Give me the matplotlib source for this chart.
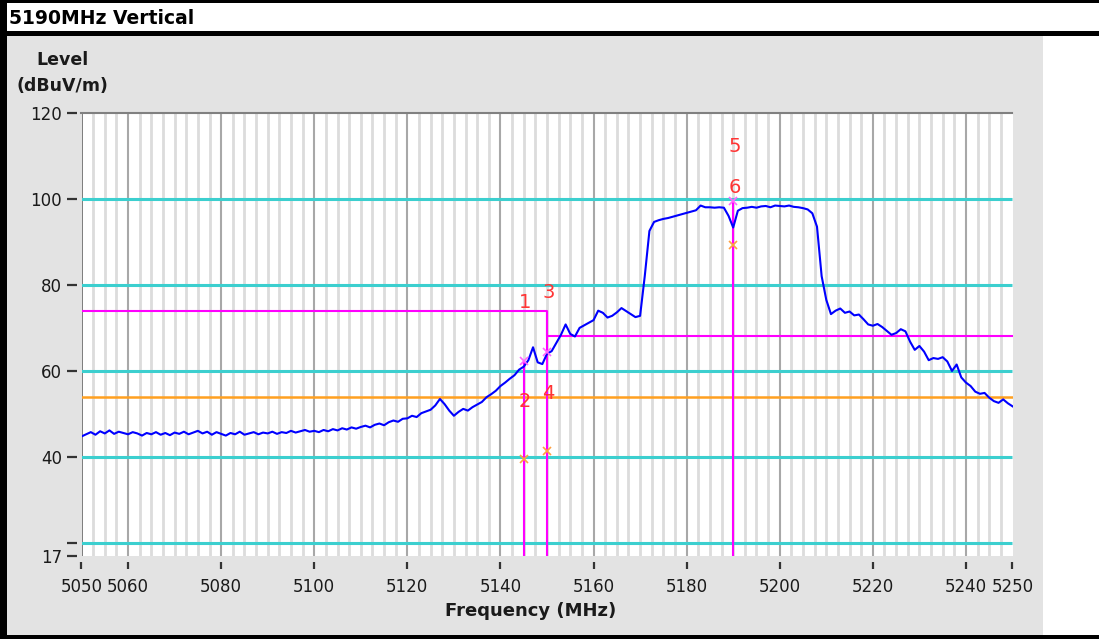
import numpy as np
import matplotlib
matplotlib.use('Agg')
import matplotlib.pyplot as plt
from matplotlib.patches import Rectangle

# ---- data ----
freq_start = 5050
freq_stop = 5250
level = [
    44.8, 45.3, 45.8, 45.2, 46.0, 45.5, 46.2, 45.4, 45.9, 45.6,   # 5050-5059
    45.3, 45.8, 45.5, 45.0, 45.6, 45.3, 45.8, 45.2, 45.6, 45.1,   # 5060-5069
    45.7, 45.4, 45.9, 45.3, 45.7, 46.1, 45.5, 45.9, 45.2, 45.8,   # 5070-5079
    45.4, 45.0, 45.6, 45.3, 45.9, 45.2, 45.5, 45.8, 45.3, 45.7,   # 5080-5089
    45.5, 45.9, 45.4, 45.8, 45.6, 46.1, 45.7, 46.0, 46.3, 45.9,   # 5090-5099
    46.1, 45.8, 46.3, 46.0, 46.5, 46.2, 46.7, 46.4, 46.9, 46.6,   # 5100-5109
    47.0, 47.3, 46.9, 47.5, 47.8, 47.4, 48.1, 48.5, 48.2, 48.9,   # 5110-5119
    49.0, 49.6, 49.3, 50.2, 50.6, 51.0, 52.0, 53.5, 52.3, 50.8,   # 5120-5129
    49.6, 50.5, 51.2, 50.8, 51.6, 52.2, 52.8, 53.9, 54.6, 55.4,   # 5130-5139
    56.5, 57.3, 58.2, 59.0, 60.3, 61.0, 62.5, 65.5, 62.0, 61.6,   # 5140-5149
    64.0, 64.6, 66.5, 68.4, 70.8, 68.6, 68.0, 70.0, 70.6, 71.2,   # 5150-5159
    71.8, 74.0, 73.5, 72.4, 72.8, 73.6, 74.6, 73.9, 73.2, 72.5,   # 5160-5169
    72.8, 82.0, 92.5, 94.6, 95.0, 95.3, 95.5, 95.8, 96.1, 96.4,   # 5170-5179
    96.7, 97.0, 97.3, 98.4, 98.0, 98.0, 97.9, 98.0, 97.9, 96.0,   # 5180-5189
    93.3, 97.2, 97.8, 97.9, 98.1, 97.9, 98.2, 98.3, 98.0, 98.4,   # 5190-5199
    98.3, 98.2, 98.4, 98.1, 98.0, 97.8, 97.5, 96.6, 93.5, 82.0,   # 5200-5209
    76.5, 73.2, 74.0, 74.5, 73.5, 73.8, 72.9, 73.1, 72.0, 70.8,   # 5210-5219
    70.5, 70.9, 70.2, 69.3, 68.4, 68.8, 69.7, 69.2, 66.8, 64.9,   # 5220-5229
    65.8, 64.5, 62.5, 63.0, 62.8, 63.2, 62.2, 60.0, 61.5, 58.5,   # 5230-5239
    57.3, 56.5, 55.2, 54.7, 54.9, 53.8, 53.0, 52.6, 53.4, 52.5,   # 5240-5249
    51.8,                                                         # 5250
]
freq = np.arange(freq_start, freq_stop + 1)

# limit lines
peak_limit_freq = [5050, 5150, 5150, 5250]
peak_limit_level = [74.0, 74.0, 68.2, 68.2]
avg_limit = 54.0

# markers
marker_id = ['1', '2', '3', '4', '5', '6']
marker_freq = [5145, 5145, 5150, 5150, 5190, 5190]
marker_level = [62.3, 39.6, 64.3, 41.5, 99.5, 89.2]
marker_kind = ['pk', 'av', 'pk', 'av', 'pk', 'av']
label_level = [76.0, 52.8, 78.1, 54.7, 112.2, 102.7]

xtick_vals = [5050, 5060, 5080, 5100, 5120, 5140, 5160, 5180, 5200, 5220, 5240, 5250]
ytick_vals = [120, 100, 80, 60, 40, 20, 17]
ytick_text = ['120', '100', '80', '60', '40', '', '17']
hgrid = [20, 40, 60, 80, 100]

W, H = 1099, 639
fig = plt.figure(figsize=(W / 100, H / 100), dpi=100, facecolor='white')


def box(x0, y0, x1, y1, color):
    # pixel coords, origin top-left
    r = Rectangle((x0 / W, 1 - y1 / H), (x1 - x0) / W, (y1 - y0) / H,
                  transform=fig.transFigure, facecolor=color, edgecolor='none', zorder=-10)
    fig.add_artist(r)


box(7, 36, 1043, 636, '#e3e3e3')
box(0, 0, W, 3, 'black')
box(0, 31, W, 36, 'black')
box(0, 0, 7, H, 'black')
box(0, 635, W, H, 'black')

fig.text(9 / W, 1 - 18 / H, '5190MHz Vertical', family='DejaVu Sans', weight='bold',
         fontsize=13.5, va='center', ha='left', color='black')

ax = fig.add_axes([81.5 / W, 1 - 556.2 / H, 931 / W, (556.2 - 112.5) / H])
ax.set_facecolor('white')
ax.set_xlim(freq_start, freq_stop)
ax.set_ylim(17, 120)

# vertical grid
minor_x = [f for f in np.arange(5052.5, 5250, 2.5) if (f - 5060) % 20 != 0]
ax.vlines(minor_x, 17, 120, color='#dcdcdc', lw=2, zorder=1)
ax.vlines(np.arange(5060, 5250, 20), 17, 120, color='#a8a8a8', lw=1.5, zorder=1.1)
ax.axvline(freq_start, color='#707070', lw=2, zorder=1.2)
ax.hlines(hgrid, freq_start, freq_stop, color='#3ccfcf', lw=2.2, zorder=2)

# limits
ax.plot(peak_limit_freq, peak_limit_level, color='#ff00ff', lw=1.5, zorder=3)
ax.axhline(avg_limit, color='#ffa020', lw=1.8, zorder=3)
ax.vlines([5145, 5150, 5190], 17, [62.3, 74.0, 99.5], color='#ff00ff', lw=1.5, zorder=3)

ax.plot(freq, level, color='#0000ff', lw=1.5, zorder=4)

for mid, mf, ml, mk, ll in zip(marker_id, marker_freq, marker_level, marker_kind, label_level):
    c = '#ff66ff' if mk == 'pk' else '#ffa040'
    ax.plot(mf, ml, marker='x', ms=6, mew=1.2, color=c, zorder=5)
    ax.text(mf + 0.3, ll, mid, color='#ff3535', fontsize=14, ha='center', va='center',
            family='DejaVu Sans', zorder=6)

ax.set_xticks(xtick_vals)
ax.set_xticklabels([str(v) for v in xtick_vals])
ax.set_yticks(ytick_vals)
ax.set_yticklabels(ytick_text)
ax.tick_params(axis='both', direction='out', width=1.6, color='#333333',
               labelsize=12, labelcolor='#1a1a1a')
ax.tick_params(axis='x', length=5, pad=7)
ax.tick_params(axis='y', length=7, pad=4)

ax.spines['left'].set_position(('outward', 3))
ax.spines['left'].set_color('none')
ax.spines['bottom'].set_position(('outward', 4))
ax.spines['bottom'].set_color('none')
ax.spines['right'].set_color('none')
ax.spines['top'].set_color('#808080')
ax.spines['top'].set_linewidth(1.5)

fig.text(531 / W, 1 - 611 / H, 'Frequency (MHz)', weight='bold', fontsize=13,
         ha='center', va='center', color='#1a1a1a')
fig.text(62 / W, 1 - 60 / H, 'Level', weight='bold', fontsize=12.5,
         ha='center', va='center', color='#1a1a1a')
fig.text(62 / W, 1 - 86 / H, '(dBuV/m)', weight='bold', fontsize=12.5,
         ha='center', va='center', color='#1a1a1a')

fig.savefig('out.png', dpi=100, facecolor='white')
